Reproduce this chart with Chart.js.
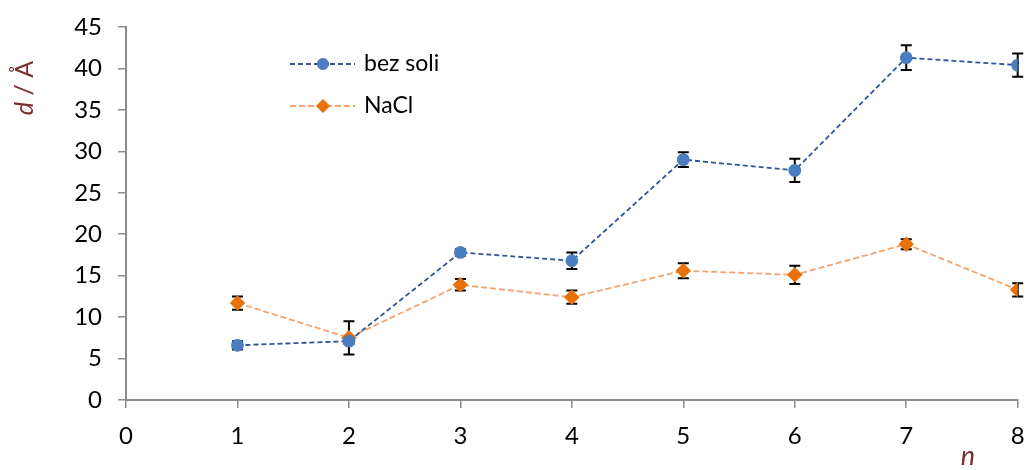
<!DOCTYPE html>
<html>
<head>
<meta charset="utf-8">
<script src="https://cdn.jsdelivr.net/npm/chart.js@4/dist/chart.umd.min.js"></script>
<style>
  html, body { margin: 0; padding: 0; background: #fff; }
  #wrap { width: 1026px; height: 470px; position: relative; }
</style>
</head>
<body>
<div id="wrap"><canvas id="c" width="1026" height="470"></canvas></div>
<script>
// number of units n
const nValues = [1, 2, 3, 4, 5, 6, 7, 8];
// spacing d (Å) and its uncertainty, without salt
const bezSoli = [6.6, 7.1, 17.8, 16.8, 29.0, 27.7, 41.3, 40.4];
const bezSoliErr = [0.5, 0.3, 0.4, 1.0, 0.9, 1.4, 1.5, 1.4];
// spacing d (Å) and its uncertainty, with NaCl
const nacl = [11.7, 7.5, 13.9, 12.4, 15.6, 15.1, 18.8, 13.3];
const naclErr = [0.8, 2.0, 0.7, 0.8, 0.9, 1.1, 0.6, 0.8];
const seriesNames = ['bez soli', 'NaCl'];
const xTitle = 'n';
const yTitle = 'd / Å';

const FONT = 'Lato, "Open Sans", sans-serif';
const AXIS_GREY = '#8c8c8c';
const TITLE_COLOR = '#7a2e2e';

const blueLine = '#2f5597', blueMarker = '#4a7ec0';
const orangeLine = '#f2a46c', orangeMarker = '#e8710a';

function points(ys) { return nValues.map((n, i) => ({ x: n, y: ys[i] })); }

// symmetric vertical error bars, drawn under the markers
const errorBars = {
  id: 'errorBars',
  beforeDatasetsDraw(chart) {
    const { ctx, scales: { x, y } } = chart;
    const sets = [[bezSoli, bezSoliErr], [nacl, naclErr]];
    ctx.save();
    ctx.strokeStyle = '#000';
    ctx.lineWidth = 2;
    const cap = 5.5;
    sets.forEach(([vals, errs]) => {
      vals.forEach((v, i) => {
        const px = x.getPixelForValue(nValues[i]);
        const top = y.getPixelForValue(v + errs[i]);
        const bot = y.getPixelForValue(v - errs[i]);
        ctx.beginPath();
        ctx.moveTo(px, top); ctx.lineTo(px, bot);
        ctx.moveTo(px - cap, top); ctx.lineTo(px + cap, top);
        ctx.moveTo(px - cap, bot); ctx.lineTo(px + cap, bot);
        ctx.stroke();
      });
    });
    ctx.restore();
  }
};

// legend and axis titles
const decorations = {
  id: 'decorations',
  afterDraw(chart) {
    const ctx = chart.ctx;
    ctx.save();
    // legend
    const rows = [
      { y: 64, name: seriesNames[0], line: blueLine, marker: blueMarker, dash: [5, 3], style: 'circle', r: 5.5 },
      { y: 106, name: seriesNames[1], line: orangeLine, marker: orangeMarker, dash: [6, 3], style: 'rectRot', r: 6.5 }
    ];
    rows.forEach(r => {
      ctx.save();
      ctx.strokeStyle = r.line;
      ctx.lineWidth = 1.8;
      ctx.setLineDash(r.dash);
      ctx.beginPath();
      ctx.moveTo(290, r.y); ctx.lineTo(355, r.y);
      ctx.stroke();
      ctx.restore();
      ctx.fillStyle = r.marker;
      ctx.strokeStyle = r.marker;
      Chart.helpers.drawPoint(ctx, { pointStyle: r.style, radius: r.r, borderWidth: 1, rotation: 0 }, 323, r.y);
      ctx.fill();
      ctx.fillStyle = '#000';
      ctx.font = '23px ' + FONT;
      ctx.textBaseline = 'middle';
      ctx.textAlign = 'left';
      ctx.fillText(r.name, 364, r.y);
    });
    // y-axis title
    ctx.save();
    ctx.translate(25, 88);
    ctx.rotate(-Math.PI / 2);
    ctx.fillStyle = TITLE_COLOR;
    ctx.textBaseline = 'middle';
    ctx.font = 'italic 25px ' + FONT;
    const dW = ctx.measureText('d').width;
    ctx.font = '25px ' + FONT;
    const restW = ctx.measureText(yTitle.slice(1)).width;
    const start = -(dW + restW) / 2;
    ctx.textAlign = 'left';
    ctx.font = 'italic 25px ' + FONT;
    ctx.fillText(yTitle[0], start, 0);
    ctx.font = '25px ' + FONT;
    ctx.fillText(yTitle.slice(1), start + dW, 0);
    ctx.restore();
    // x-axis title
    ctx.fillStyle = TITLE_COLOR;
    ctx.font = 'italic 27px ' + FONT;
    ctx.textAlign = 'center';
    ctx.textBaseline = 'middle';
    ctx.fillText(xTitle, 968, 456);
    ctx.restore();
  }
};

const axisCommon = {
  type: 'linear',
  grid: { drawOnChartArea: false, drawTicks: true, tickLength: 8, color: AXIS_GREY, lineWidth: 1.5 },
  border: { color: AXIS_GREY, width: 2 },
};

new Chart(document.getElementById('c'), {
  type: 'line',
  data: {
    datasets: [
      {
        label: seriesNames[0],
        data: points(bezSoli),
        borderColor: blueLine,
        borderWidth: 1.8,
        borderDash: [5, 3],
        pointStyle: 'circle',
        pointRadius: 5.5,
        pointBackgroundColor: blueMarker,
        pointBorderColor: blueMarker,
        tension: 0
      },
      {
        label: seriesNames[1],
        data: points(nacl),
        borderColor: orangeLine,
        borderWidth: 1.8,
        borderDash: [6, 3],
        pointStyle: 'rectRot',
        pointRadius: 6.5,
        pointBackgroundColor: orangeMarker,
        pointBorderColor: orangeMarker,
        tension: 0
      }
    ]
  },
  options: {
    responsive: false,
    animation: false,
    devicePixelRatio: 1,
    layout: { padding: { top: 27, right: 8, left: 0, bottom: 0 } },
    plugins: { legend: { display: false }, tooltip: { enabled: false } },
    scales: {
      x: Object.assign({}, axisCommon, {
        min: 0, max: 8,
        ticks: { stepSize: 1, color: '#000', font: { family: FONT, size: 24 }, padding: 14 },
        afterFit(s) { s.height = 70; s.paddingLeft = 0; s.paddingRight = 0; }
      }),
      y: Object.assign({}, axisCommon, {
        min: 0, max: 45,
        ticks: { stepSize: 5, color: '#000', font: { family: FONT, size: 24 }, padding: 16 },
        afterFit(s) { s.width = 126; s.paddingTop = 0; s.paddingBottom = 0; }
      })
    }
  },
  plugins: [errorBars, decorations]
});
</script>
</body>
</html>
